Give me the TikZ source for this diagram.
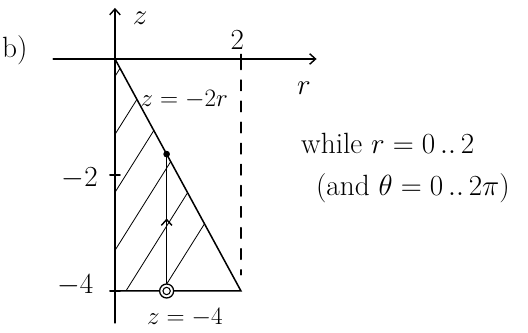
\documentclass[tikz,border=0pt]{standalone}
\usepackage{amsmath,amssymb}
\usetikzlibrary{positioning,arrows.meta}
\tikzset{
  hand/.style={line width=1.3pt, line cap=round},
  hatch/.style={line width=0.7pt},
  tip/.style={-{Straight Barb[length=5pt,width=9pt,line width=1.2pt]}},
  lbl/.style={font=\fontsize{25}{30}\selectfont, inner sep=1pt},
  smalllbl/.style={lbl, scale=0.86},
}
\begin{document}
\begin{tikzpicture}[x=1.89cm,y=1.74cm]
  \useasboundingbox (-1.825,1.017) rectangle (6.556,-4.724);
  % points of the sketch
  \coordinate (O) at (0,0);
  \coordinate (Zt) at (0,0.88);
  \coordinate (Zb) at (0,-4.55);
  \coordinate (Rl) at (-0.98,0);
  \coordinate (Rr) at (3.2,0);
  \coordinate (Two) at (2,0);
  \coordinate (Dend) at (2,-3.72);
  \coordinate (Base) at (0,-4);
  \coordinate (Corner) at (2,-4);
  \coordinate (P) at (0.82,-1.64);
  \coordinate (M) at (0.82,-2.75);
  % hatching of the region
  \begin{scope}
    \clip (O) -- (Base) -- (Corner) -- cycle;
    \foreach \c in {-5.3,-4.3,-3.3,-2.3,-1.3,-0.3}
      \draw[hatch] (0,\c) -- (2,\c+3.46);
  \end{scope}
  % axes
  \draw[hand,tip] (Zb) -- (Zt);
  \draw[hand,tip] (Rl) -- (Rr);
  \draw[hand,dash pattern=on 9pt off 9pt] (Two) -- (Dend);
  \draw[hand] (2,0.08) -- (2,-0.08);
  \draw[hand] (-0.08,-2) -- (0.08,-2);
  \draw[hand] (-0.08,-4) -- (0.08,-4);
  % boundary of the region
  \draw[hand] (O) -- (Corner) -- (Base);
  \node[circle,draw,fill=white,line width=1.1pt,minimum size=0.42cm,inner sep=0pt] (Q) at (0.82,-4) {};
  \node[circle,draw,line width=0.9pt,minimum size=0.22cm,inner sep=0pt] at (Q) {};
  \draw[hand] (Q) -- (P);
  \draw[hand,tip] (Q) -- (M);
  \node[circle,fill,minimum size=0.2cm,inner sep=0pt] (Pdot) at (P) {};
  % labels
  \node[lbl] (lb) at (-1.59,0.16) {b)};
  \node[lbl] (lz) at (0.4,0.7) {$z$};
  \node[lbl] (l2) at (1.94,0.33) {$2$};
  \node[lbl] (lr) at (3.0,-0.5) {$r$};
  \node[lbl] (lm2) at (-0.56,-2.05) {$-2$};
  \node[lbl] (lm4) at (-0.63,-3.9) {$-4$};
  \node[smalllbl] (lline) at (1.1,-0.69) {$z=-2r$};
  \node[smalllbl,anchor=north] (lbase) at (1.11,-4.27) {$z=-4$};
  \node[lbl] (lwhile) at (4.33,-1.45) {while $r=0\,..\,2$};
  \node[lbl] (ltheta) at (4.73,-2.22) {(and $\theta=0\,..\,2\pi$)};
\end{tikzpicture}
\end{document}
